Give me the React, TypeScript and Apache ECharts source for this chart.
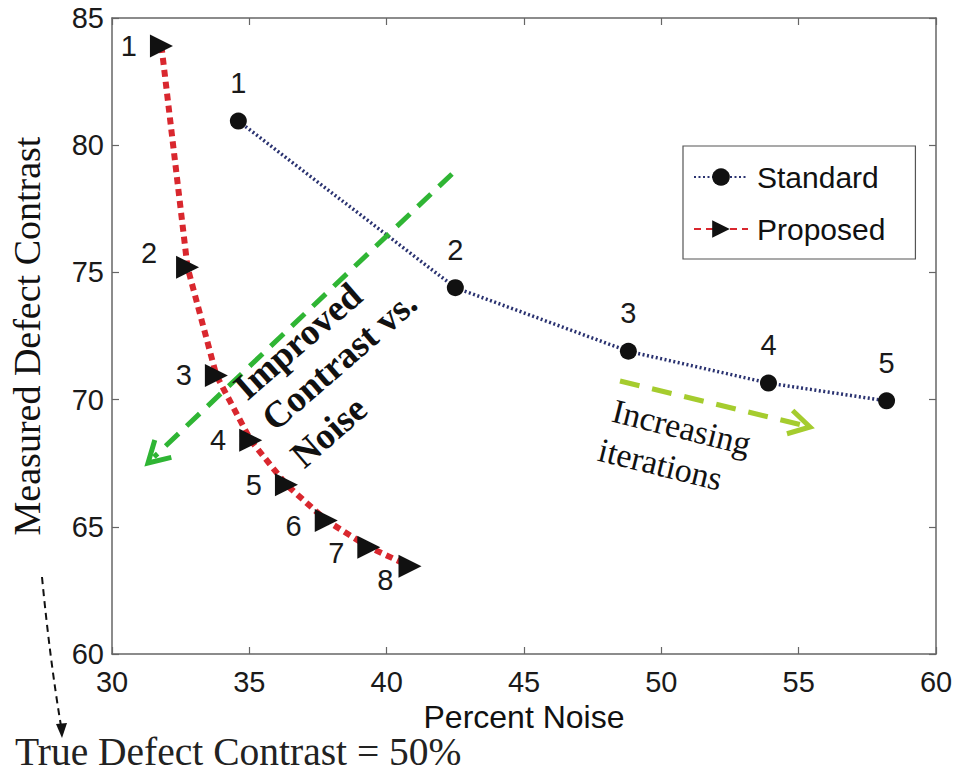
import React, { useEffect, useRef } from 'react';
import * as echarts from 'echarts';

const xRange = [30, 60];
const yRange = [60, 85];
const tickStep = 5;

const standardNoise = [34.6, 42.5, 48.8, 53.9, 58.2];
const standardContrast = [80.95, 74.4, 71.9, 70.65, 69.95];
const proposedNoise = [31.8, 32.75, 33.8, 35.05, 36.35, 37.8, 39.35, 40.85];
const proposedContrast = [83.9, 75.2, 70.95, 68.4, 66.65, 65.25, 64.2, 63.45];
const seriesNames = ['Standard', 'Proposed'];

const SANS = '"Liberation Sans", Arial, Helvetica, sans-serif';
const SERIF = '"Liberation Serif", "Times New Roman", serif';

function arrowHead(tail: number[], tip: number[], len: number, deg: number) {
  const dx = tail[0] - tip[0];
  const dy = tail[1] - tip[1];
  const l = Math.hypot(dx, dy);
  const ux = dx / l, uy = dy / l;
  const a = (deg * Math.PI) / 180;
  const rot = (s: number) => [
    tip[0] + len * (ux * Math.cos(s * a) - uy * Math.sin(s * a)),
    tip[1] + len * (ux * Math.sin(s * a) + uy * Math.cos(s * a)),
  ];
  return [rot(1), tip, rot(-1)];
}

export default function App() {
  const ref = useRef<HTMLDivElement>(null);
  useEffect(() => {
    const chart = echarts.init(ref.current!, null, { renderer: 'svg' });

    const standardData = standardNoise.map((x, i) => ({ value: [x, standardContrast[i]] }));
    const proposedData = proposedNoise.map((x, i) => {
      const item: any = { value: [x, proposedContrast[i]] };
      if (i === 1) item.label = { offset: [-6, -14] };
      if (i === 5 || i === 6) item.label = { offset: [0, 6] };
      if (i === 7) item.label = { offset: [8, 14] };
      return item;
    });

    const greenTail = [452, 174];
    const greenTip = [148, 463];
    const yellowTail = [620, 381];
    const yellowTip = [810, 427];

    const rad = (d: number) => (d * Math.PI) / 180;

    const option: any = {
      animation: false,
      backgroundColor: '#fff',
      textStyle: { fontFamily: SANS },
      grid: { left: 111, right: 38, top: 18, bottom: 122, containLabel: false },
      legend: {
        data: seriesNames,
        orient: 'vertical',
        left: 683,
        top: 146,
        padding: [16, 30, 15, 10],
        itemGap: 22,
        itemWidth: 54,
        itemHeight: 22,
        borderColor: '#555',
        borderWidth: 1.2,
        backgroundColor: '#fff',
        textStyle: { fontFamily: SANS, fontSize: 30, lineHeight: 30, color: '#111', padding: [0, 0, 0, 4] },
      },
      xAxis: [
        {
          type: 'value',
          min: xRange[0],
          max: xRange[1],
          interval: tickStep,
          name: 'Percent Noise',
          nameLocation: 'middle',
          nameGap: 41,
          nameTextStyle: { fontFamily: SANS, fontSize: 32, color: '#111' },
          axisLine: { show: true, lineStyle: { color: '#666', width: 1.5 } },
          axisTick: { show: true, inside: true, length: 7, lineStyle: { color: '#666', width: 1.2 } },
          axisLabel: { fontFamily: SANS, fontSize: 29, color: '#1a1a1a', margin: 13 },
          splitLine: { show: false },
        },
        {
          type: 'value',
          position: 'top',
          min: xRange[0],
          max: xRange[1],
          interval: tickStep,
          axisLine: { show: true, lineStyle: { color: '#666', width: 1.5 } },
          axisTick: { show: true, inside: true, length: 7, lineStyle: { color: '#666', width: 1.2 } },
          axisLabel: { show: false },
          splitLine: { show: false },
        },
      ],
      yAxis: [
        {
          type: 'value',
          min: yRange[0],
          max: yRange[1],
          interval: tickStep,
          name: 'Measured Defect Contrast',
          nameLocation: 'middle',
          nameGap: 66,
          nameTextStyle: { fontFamily: SERIF, fontSize: 38, color: '#111' },
          axisLine: { show: true, lineStyle: { color: '#666', width: 1.5 } },
          axisTick: { show: true, inside: true, length: 7, lineStyle: { color: '#666', width: 1.2 } },
          axisLabel: { fontFamily: SANS, fontSize: 29, color: '#1a1a1a', margin: 8 },
          splitLine: { show: false },
        },
        {
          type: 'value',
          position: 'right',
          min: yRange[0],
          max: yRange[1],
          interval: tickStep,
          axisLine: { show: true, lineStyle: { color: '#666', width: 1.5 } },
          axisTick: { show: true, inside: true, length: 7, lineStyle: { color: '#666', width: 1.2 } },
          axisLabel: { show: false },
          splitLine: { show: false },
        },
      ],
      series: [
        {
          name: seriesNames[0],
          type: 'line',
          data: standardData,
          symbol: 'circle',
          symbolSize: 17,
          itemStyle: { color: '#111' },
          lineStyle: { color: '#2a3270', width: 3.5, type: [2, 2.5] },
          label: {
            show: true,
            position: 'top',
            distance: 15,
            formatter: (p: any) => String(p.dataIndex + 1),
            fontFamily: SANS,
            fontSize: 29,
            color: '#1a1a1a',
          },
          z: 3,
        },
        {
          name: seriesNames[1],
          type: 'line',
          data: proposedData,
          symbol: 'triangle',
          symbolRotate: -90,
          symbolSize: 23,
          itemStyle: { color: '#111' },
          lineStyle: { color: '#d9272e', width: 6, type: [7, 5] },
          label: {
            show: true,
            position: 'left',
            distance: 13,
            formatter: (p: any) => String(p.dataIndex + 1),
            fontFamily: SANS,
            fontSize: 29,
            color: '#1a1a1a',
          },
          z: 3,
        },
      ],
      graphic: [
        {
          type: 'line',
          shape: { x1: greenTail[0], y1: greenTail[1], x2: greenTip[0] + 6, y2: greenTip[1] - 6 },
          style: { stroke: '#2fb534', lineWidth: 5, lineDash: [18, 11] },
          z: 10,
        },
        {
          type: 'polyline',
          shape: { points: arrowHead(greenTail, greenTip, 24, 30) },
          style: { stroke: '#2fb534', lineWidth: 5, fill: null },
          z: 10,
        },
        {
          type: 'line',
          shape: { x1: yellowTail[0], y1: yellowTail[1], x2: yellowTip[0] - 8, y2: yellowTip[1] - 2 },
          style: { stroke: '#a5cc2e', lineWidth: 5, lineDash: [20, 13] },
          z: 10,
        },
        {
          type: 'polyline',
          shape: { points: arrowHead(yellowTail, yellowTip, 24, 30) },
          style: { stroke: '#a5cc2e', lineWidth: 5, fill: null },
          z: 10,
        },
        {
          type: 'text',
          x: 239,
          y: 392,
          rotation: rad(41),
          style: { text: 'Improved', fontFamily: SERIF, fontWeight: 'bold', fontSize: 37, fill: '#111', align: 'left', verticalAlign: 'middle' },
          z: 11,
        },
        {
          type: 'text',
          x: 267,
          y: 423,
          rotation: rad(41),
          style: { text: 'Contrast vs.', fontFamily: SERIF, fontWeight: 'bold', fontSize: 37, fill: '#111', align: 'left', verticalAlign: 'middle' },
          z: 11,
        },
        {
          type: 'text',
          x: 296,
          y: 460,
          rotation: rad(41),
          style: { text: 'Noise', fontFamily: SERIF, fontWeight: 'bold', fontSize: 37, fill: '#111', align: 'left', verticalAlign: 'middle' },
          z: 11,
        },
        {
          type: 'text',
          x: 613,
          y: 410,
          rotation: rad(-14),
          style: { text: 'Increasing', fontFamily: SERIF, fontSize: 34, fill: '#111', align: 'left', verticalAlign: 'middle' },
          z: 11,
        },
        {
          type: 'text',
          x: 599,
          y: 449,
          rotation: rad(-14),
          style: { text: 'iterations', fontFamily: SERIF, fontSize: 34, fill: '#111', align: 'left', verticalAlign: 'middle' },
          z: 11,
        },
        {
          type: 'bezierCurve',
          shape: { x1: 42, y1: 577, cpx1: 50, cpy1: 660, x2: 61, y2: 726 },
          style: { stroke: '#111', lineWidth: 2, lineDash: [7, 5], fill: null },
          z: 10,
        },
        {
          type: 'polygon',
          shape: { points: [[62, 738], [56, 724], [67, 723]] },
          style: { fill: '#111' },
          z: 10,
        },
        {
          type: 'text',
          x: 15,
          y: 752,
          style: { text: 'True Defect Contrast = 50%', fontFamily: SERIF, fontSize: 39.5, fill: '#222', align: 'left', verticalAlign: 'middle' },
          z: 11,
        },
      ],
    };

    chart.setOption(option);
    return () => chart.dispose();
  }, []);

  return (
    <div
      ref={ref}
      style={{ position: 'absolute', left: 0, top: 0, width: 974, height: 776 }}
    />
  );
}
